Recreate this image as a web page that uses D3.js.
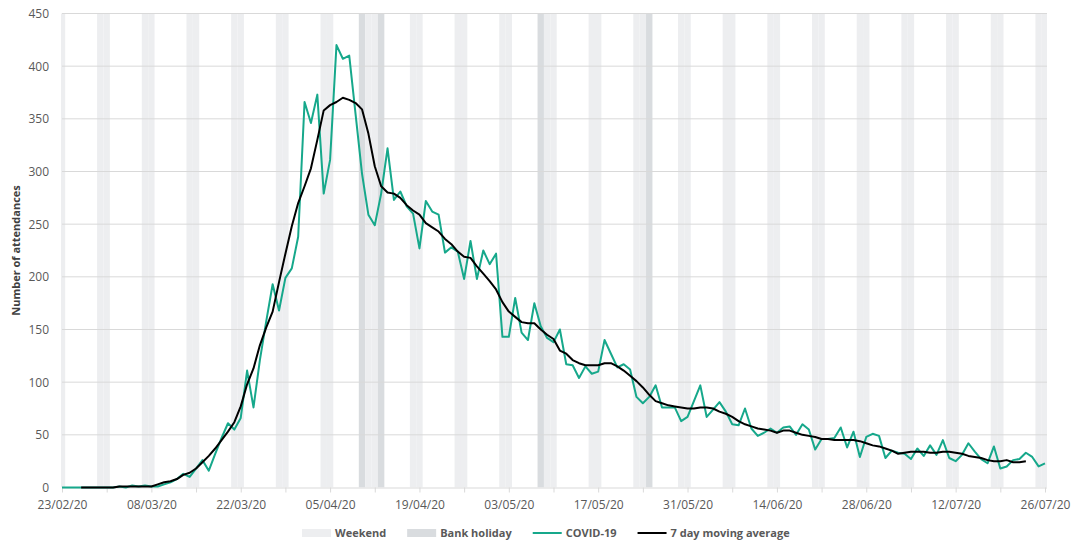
<!DOCTYPE html>
<html>
<head>
<meta charset="utf-8">
<script src="https://cdn.jsdelivr.net/npm/d3@7"></script>
<style>
  body { margin: 0; background: #fff; }
  svg { font-family: "Open Sans", sans-serif; }
</style>
</head>
<body>
<div id="chart"></div>
<script>
// daily series, one value per day from 23/02/20 to 26/07/20
const startDate = "2020-02-23";
const endDate = "2020-07-26";

const covidDaily = [
  0, 0, 0, 0, 0, 0, 0, 0, 0,
  1, 0, 2, 1, 2, 1, 1, 3, 5, 8, 13,
  10, 18, 26, 16, 32, 47, 61, 55, 66, 111,
  76, 121, 158, 193, 168, 199, 208, 238, 366, 346,
  373, 279, 311, 420, 407, 410, 354, 298, 259, 249,
  279, 322, 273, 281, 267, 260, 227, 272, 262, 259,
  223, 228, 224, 198, 234, 198, 225, 212, 222, 143,
  143, 180, 147, 140, 175, 153, 142, 138, 150, 117,
  116, 104, 115, 108, 110, 140, 127, 114, 117, 112,
  86, 80, 86, 97, 76, 76, 76, 63, 67, 82,
  97, 67, 74, 81, 72, 60, 59, 75, 56, 49,
  52, 56, 52, 57, 58, 50, 60, 55, 36, 46,
  46, 47, 57, 38, 53, 29, 48, 51, 49, 28,
  35, 33, 32, 27, 37, 30, 40, 31, 45, 28,
  25, 31, 42, 34, 27, 23, 39, 18, 20, 26,
  27, 33, 29, 20, 23
];

// 7 day moving average (centred, so first and last 3 days are empty)
const movingAvg = [
  null, null, null,
  0, 0, 0, 0, 0, 0, 1, 1, 1, 1, 1, 1,
  3, 5, 6, 8, 12, 14, 18, 24, 30, 37,
  45, 53, 62, 77, 98, 113, 135, 152, 167, 195,
  222, 248, 270, 286, 303, 330, 358, 363, 366, 370,
  368, 365, 359, 336, 305, 286, 280, 279, 275, 268,
  263, 259, 251, 247, 243, 236, 231, 224, 219, 218,
  210, 203, 196, 188, 176, 167, 162, 157, 156, 156,
  150, 145, 141, 130, 127, 121, 118, 116, 116, 116,
  118, 118, 115, 111, 106, 101, 95, 88, 82, 80,
  78, 77, 76, 75, 75, 76, 76, 75, 72, 70,
  67, 63, 60, 58, 56, 55, 54, 52, 54, 54,
  52, 50, 49, 48, 46, 46, 45, 45, 45, 45,
  44, 42, 40, 39, 37, 35, 32, 33, 34, 34,
  34, 33, 33, 34, 34, 33, 32, 30, 29, 28,
  26, 25, 25, 26, 24, 24, 25,
  null, null, null
];

const bankHolidays = ["2020-04-10", "2020-04-13", "2020-05-08", "2020-05-25"];
const yTicks = [0, 50, 100, 150, 200, 250, 300, 350, 400, 450];

const width = 1089, height = 543;
const plotLeft = 62, plotRight = 1045, plotTop = 13.5, plotBottom = 487.5;

const parse = d3.timeParse("%Y-%m-%d");
const t0 = parse(startDate), t1 = parse(endDate);
const days = d3.timeDay.range(t0, d3.timeDay.offset(t1, 1));
const holidaySet = new Set(bankHolidays);
const fmtKey = d3.timeFormat("%Y-%m-%d");

const x = d3.scaleTime().domain([t0, t1]).range([plotLeft, plotRight]);
const y = d3.scaleLinear().domain([0, 450]).range([plotBottom, plotTop]);
const dayW = x(d3.timeDay.offset(t0, 1)) - x(t0);

const svg = d3.select("#chart").append("svg")
  .attr("width", width)
  .attr("height", height);

svg.append("defs").append("clipPath").attr("id", "plot")
  .append("rect").attr("x", plotLeft - 1).attr("y", 0)
  .attr("width", plotRight - plotLeft + 3).attr("height", plotBottom);

// weekend and bank holiday bands
const bands = days.filter(d => d.getDay() === 0 || d.getDay() === 6 || holidaySet.has(fmtKey(d)));
svg.append("g").attr("clip-path", "url(#plot)")
  .selectAll("rect").data(bands).enter().append("rect")
  .attr("x", d => x(d) - dayW / 2)
  .attr("y", plotTop)
  .attr("width", dayW)
  .attr("height", plotBottom - plotTop)
  .attr("fill", d => holidaySet.has(fmtKey(d)) ? "#d9dcdf" : "#edeef0");

// horizontal gridlines
svg.append("g").selectAll("line").data(yTicks.slice(1)).enter().append("line")
  .attr("x1", plotLeft).attr("x2", plotRight + 2)
  .attr("y1", d => y(d)).attr("y2", d => y(d))
  .attr("stroke", "#d9d9d9").attr("stroke-width", 1);

// y axis labels
const yAxis = svg.append("g")
  .attr("transform", `translate(${plotLeft},0)`)
  .call(d3.axisLeft(y).tickValues(yTicks).tickSize(0).tickPadding(13));
yAxis.select(".domain").remove();
yAxis.selectAll("text")
  .attr("fill", "#595959")
  .style("font-size", "12px")
  .style("font-family", "'Open Sans', sans-serif");

// x axis, weekly ticks, labels every two weeks
const weekTicks = d3.timeDay.range(t0, d3.timeDay.offset(t1, 1), 7);
const fmt = d3.timeFormat("%d/%m/%y");
const xAxis = svg.append("g")
  .attr("transform", `translate(0,${plotBottom})`)
  .call(d3.axisBottom(x).tickValues(weekTicks).tickSize(5).tickPadding(8)
    .tickFormat((d, i) => i % 2 === 0 ? fmt(d) : ""));
xAxis.select(".domain").attr("stroke", "#d9d9d9").attr("d", `M${plotLeft},0.5H${plotRight + 2}`);
xAxis.selectAll(".tick line").attr("stroke", "#d9d9d9");
xAxis.selectAll("text")
  .attr("fill", "#595959")
  .style("font-size", "12px")
  .style("font-family", "'Open Sans', sans-serif");

// y axis title
svg.append("text")
  .attr("transform", `translate(20,${(plotTop + plotBottom) / 2}) rotate(-90)`)
  .attr("text-anchor", "middle")
  .attr("fill", "#404040")
  .style("font-size", "11px")
  .style("font-weight", "bold")
  .text("Number of attendances");

// series
const dailyLine = d3.line()
  .x((d, i) => x(days[i]))
  .y(d => y(d));
svg.append("path")
  .datum(covidDaily)
  .attr("d", dailyLine)
  .attr("fill", "none")
  .attr("stroke", "#16a88b")
  .attr("stroke-width", 2)
  .attr("stroke-linejoin", "round");

const avgLine = d3.line()
  .defined(d => d !== null)
  .x((d, i) => x(days[i]))
  .y(d => y(d));
svg.append("path")
  .datum(movingAvg)
  .attr("d", avgLine)
  .attr("fill", "none")
  .attr("stroke", "#000")
  .attr("stroke-width", 2)
  .attr("stroke-linejoin", "round");

// legend
const legendItems = [
  { label: "Weekend", type: "rect", color: "#edeef0" },
  { label: "Bank holiday", type: "rect", color: "#d9dcdf" },
  { label: "COVID-19", type: "line", color: "#16a88b" },
  { label: "7 day moving average", type: "line", color: "#000" }
];
const legend = svg.append("g").attr("transform", "translate(302,533)");
let lx = 0;
legendItems.forEach(item => {
  if (item.type === "rect") {
    legend.append("rect").attr("x", lx).attr("y", -4).attr("width", 29).attr("height", 8)
      .attr("fill", item.color);
  } else {
    legend.append("line").attr("x1", lx).attr("x2", lx + 29).attr("y1", 0).attr("y2", 0)
      .attr("stroke", item.color).attr("stroke-width", 2);
  }
  const t = legend.append("text")
    .attr("x", lx + 33).attr("y", 4)
    .attr("fill", "#595959")
    .style("font-size", "11px")
    .style("font-weight", "bold")
    .text(item.label);
  lx += 33 + t.node().getComputedTextLength() + 21;
});
</script>
</body>
</html>
